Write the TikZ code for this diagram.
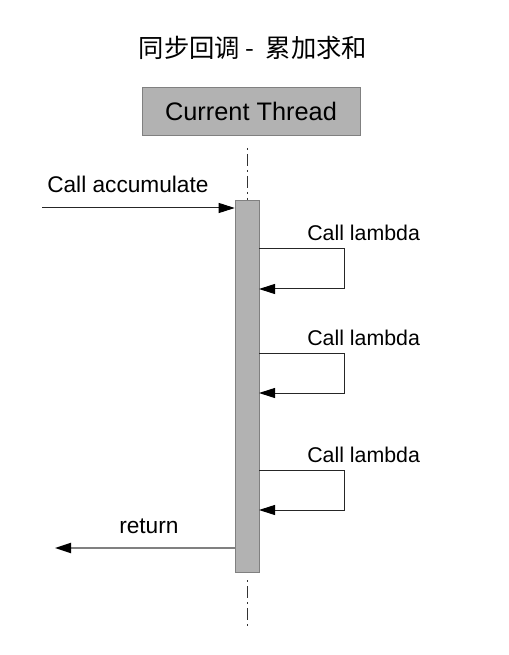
\documentclass[tikz,border=0pt]{standalone}
\usepackage{fontspec}
\setmainfont{Liberation Sans}
\newfontfamily\cjk{Noto Sans CJK SC}
\usetikzlibrary{arrows.meta, positioning}

\begin{document}
\begin{tikzpicture}[x=0.75pt,y=-0.75pt,>={Triangle[length=12pt,width=7.5pt,color=black]},
  box/.style={draw=gray, fill=black!30, minimum width=163.5pt, minimum height=36pt, inner sep=0pt, font=\fontsize{19}{22}\selectfont},
  act/.style={draw=gray, fill=black!30, minimum width=18pt, minimum height=279pt, inner sep=0pt},
  life/.style={black!80, line width=0.6pt, dash pattern=on 1.5pt off 3pt on 9pt off 3pt},
  msg/.style={black!85, line width=0.75pt},
  lbl/.style={inner sep=0pt, anchor=base west, font=\fontsize{17}{20}\selectfont},
  lbls/.style={inner sep=0pt, anchor=base west, font=\fontsize{16}{19}\selectfont}]
\useasboundingbox (0,0) rectangle (508,655);
\node[font=\cjk\fontsize{19}{22}\selectfont] (title) at (253,48) {同步回调 -\ \ 累加求和};
\node[box] (thread) at (251,111) {Current Thread};
\node[act] (bar) at (247,386) {};
\coordinate (top) at (247,148);
\coordinate (low) at (247,580);
\coordinate (end) at (247,630);
\draw[life] (top) -- (bar.north);
\draw[life] (low) -- (end);
% incoming call
\coordinate (src) at (42,208);
\draw[msg,->] (src) -- (src -| bar.west);
\node[lbl] (call) at (47,193) {Call accumulate};
% lambda calls
\foreach \y [count=\i] in {249,353,470} {
  \coordinate (out\i) at (259,\y);
  \coordinate (in\i) at (259,\y+40);
  \draw[msg,->] (out\i) -- ++(85,0) |- (in\i);
  \node[lbls] (lam\i) at (307,\y-8) {Call lambda};
}
% return
\coordinate (ret) at (55,548);
\draw[gray, line width=1.5pt, ->] (bar.west |- ret) -- (ret);
\node[lbl] (back) at (119,533) {return};
\end{tikzpicture}
\end{document}
